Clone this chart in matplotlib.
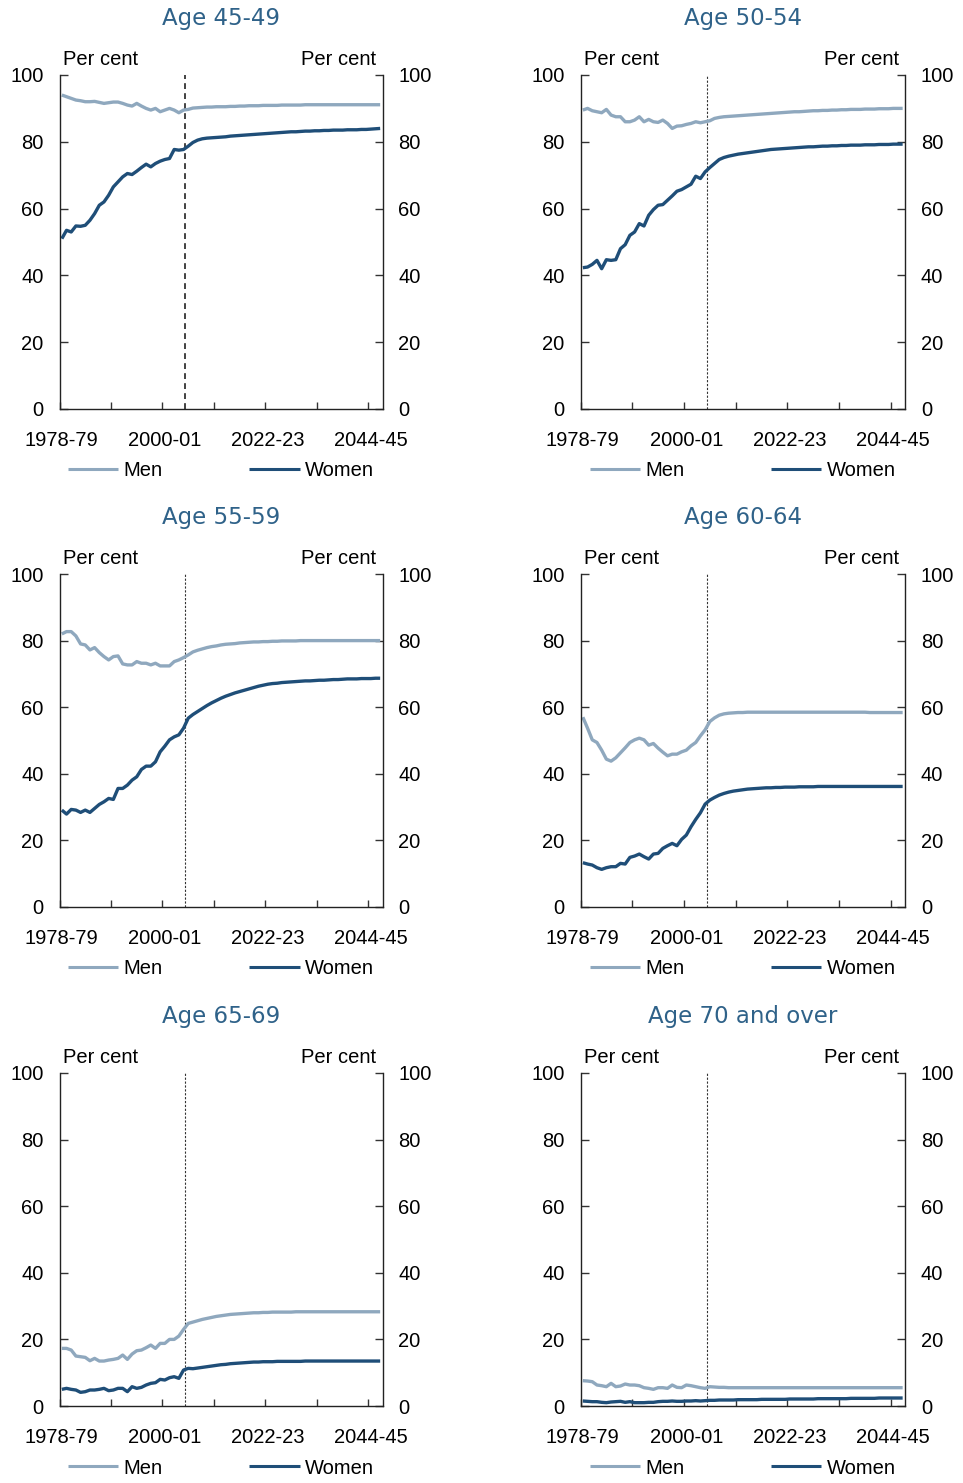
import numpy as np
import matplotlib
matplotlib.use("Agg")
import matplotlib.pyplot as plt

# ---------------- data ----------------
start_year = 1978
proj_start = 2004.8
tick_years = [1978, 1989, 2000, 2011, 2022, 2033, 2044]
label_years = [1978.5, 2000.5, 2022.5, 2044.5]
tick_labels = ["1978-79", "2000-01", "2022-23", "2044-45"]
titles = ["Age 45-49", "Age 50-54", "Age 55-59", "Age 60-64", "Age 65-69", "Age 70 and over"]
series_names = ["Men", "Women"]

men45 = [94.0, 93.5, 93.0, 92.5, 92.3, 92.0, 92.0, 92.1, 91.8, 91.5,
         91.7, 91.9, 91.9, 91.5, 91.0, 90.7, 91.5, 90.7, 90.0, 89.5,
         90.0, 89.0, 89.5, 90.0, 89.5, 88.7, 89.5, 89.7,
         90.1, 90.2, 90.3, 90.4, 90.4, 90.5, 90.5, 90.5, 90.6, 90.6,
         90.7, 90.7, 90.8, 90.8, 90.8, 90.9, 90.9, 90.9, 90.9, 91.0,
         91.0, 91.0, 91.0, 91.0, 91.1, 91.1, 91.1, 91.1, 91.1, 91.1,
         91.1, 91.1, 91.1, 91.1, 91.1, 91.1, 91.1, 91.1, 91.1, 91.1,
         91.1]
women45 = [51.0, 53.5, 53.0, 54.8, 54.7, 55.0, 56.5, 58.5, 61.0, 62.0,
           64.0, 66.5, 68.0, 69.5, 70.5, 70.2, 71.2, 72.3, 73.3, 72.5,
           73.5, 74.2, 74.7, 75.0, 77.7, 77.5, 77.7, 78.7,
           79.8, 80.5, 80.9, 81.1, 81.2, 81.3, 81.4, 81.5, 81.7, 81.8,
           81.9, 82.0, 82.1, 82.2, 82.3, 82.4, 82.5, 82.6, 82.7, 82.8,
           82.9, 83.0, 83.0, 83.1, 83.2, 83.2, 83.3, 83.3, 83.4, 83.4,
           83.5, 83.5, 83.5, 83.6, 83.6, 83.6, 83.7, 83.7, 83.8, 83.9,
           84.0]

men50 = [89.5, 90.0, 89.3, 89.0, 88.7, 89.7, 88.0, 87.5, 87.5, 86.0,
         86.0, 86.5, 87.5, 86.0, 86.7, 86.0, 85.8, 86.5, 85.5, 84.0,
         84.7, 84.8, 85.2, 85.5, 86.0, 85.7, 86.0, 86.3,
         87.0, 87.3, 87.5, 87.6, 87.7, 87.8, 87.9, 88.0, 88.1, 88.2,
         88.3, 88.4, 88.5, 88.6, 88.7, 88.8, 88.9, 89.0, 89.0, 89.1,
         89.2, 89.3, 89.3, 89.4, 89.4, 89.5, 89.5, 89.6, 89.6, 89.7,
         89.7, 89.7, 89.8, 89.8, 89.8, 89.9, 89.9, 89.9, 90.0, 90.0,
         90.0]
women50 = [42.3, 42.5, 43.3, 44.5, 42.0, 44.7, 44.5, 44.7, 48.0, 49.2,
           52.0, 53.0, 55.5, 54.8, 58.0, 59.7, 61.0, 61.2, 62.5, 63.8,
           65.2, 65.7, 66.5, 67.3, 69.7, 69.0, 71.0, 72.3,
           73.5, 74.7, 75.3, 75.7, 76.0, 76.3, 76.5, 76.7, 76.9, 77.1,
           77.3, 77.5, 77.7, 77.8, 77.9, 78.0, 78.1, 78.2, 78.3, 78.4,
           78.5, 78.5, 78.6, 78.7, 78.7, 78.8, 78.8, 78.9, 78.9, 79.0,
           79.0, 79.0, 79.1, 79.1, 79.1, 79.2, 79.2, 79.2, 79.3, 79.3,
           79.3]

men55 = [82.0, 82.7, 82.7, 81.4, 79.0, 78.7, 77.2, 77.9, 76.4, 75.2,
         74.2, 75.2, 75.4, 73.0, 72.7, 72.7, 73.7, 73.2, 73.2, 72.7,
         73.2, 72.4, 72.4, 72.4, 73.7, 74.2, 74.9, 75.7,
         76.6, 77.1, 77.5, 77.9, 78.2, 78.4, 78.7, 78.9, 79.0, 79.1,
         79.3, 79.4, 79.5, 79.6, 79.6, 79.7, 79.7, 79.8, 79.8, 79.9,
         79.9, 79.9, 79.9, 80.0, 80.0, 80.0, 80.0, 80.0, 80.0, 80.0,
         80.0, 80.0, 80.0, 80.0, 80.0, 80.0, 80.0, 80.0, 80.0, 80.0,
         80.0]
women55 = [29.1, 27.9, 29.3, 29.1, 28.4, 29.1, 28.4, 29.6, 30.8, 31.6,
           32.6, 32.3, 35.6, 35.6, 36.6, 38.1, 39.1, 41.3, 42.3, 42.3,
           43.6, 46.6, 48.3, 50.2, 51.1, 51.7, 53.7, 56.7,
           57.8, 58.7, 59.6, 60.5, 61.3, 62.0, 62.7, 63.3, 63.8, 64.3,
           64.7, 65.1, 65.5, 65.9, 66.3, 66.6, 66.9, 67.1, 67.2, 67.4,
           67.5, 67.6, 67.7, 67.8, 67.9, 67.9, 68.0, 68.1, 68.1, 68.2,
           68.3, 68.3, 68.4, 68.5, 68.5, 68.5, 68.6, 68.6, 68.6, 68.7,
           68.7]

men60 = [57.0, 53.7, 50.2, 49.4, 47.1, 44.4, 43.8, 44.8, 46.3, 47.8,
         49.4, 50.2, 50.7, 50.2, 48.6, 49.1, 47.7, 46.5, 45.4, 45.9,
         45.9, 46.6, 47.1, 48.4, 49.4, 51.4, 53.2, 55.7,
         56.8, 57.6, 58.0, 58.2, 58.3, 58.4, 58.4, 58.5, 58.5, 58.5,
         58.5, 58.5, 58.5, 58.5, 58.5, 58.5, 58.5, 58.5, 58.5, 58.5,
         58.5, 58.5, 58.5, 58.5, 58.5, 58.5, 58.5, 58.5, 58.5, 58.5,
         58.5, 58.5, 58.5, 58.4, 58.4, 58.4, 58.4, 58.4, 58.4, 58.4,
         58.4]
women60 = [13.3, 12.9, 12.6, 11.8, 11.3, 11.8, 12.1, 12.1, 13.1, 12.9,
           14.9, 15.3, 15.9, 15.1, 14.4, 15.9, 16.1, 17.6, 18.4, 19.1,
           18.4, 20.3, 21.6, 24.1, 26.3, 28.3, 30.9, 32.1,
           32.9, 33.6, 34.1, 34.5, 34.8, 35.0, 35.2, 35.4, 35.5, 35.6,
           35.7, 35.8, 35.8, 35.9, 35.9, 36.0, 36.0, 36.0, 36.1, 36.1,
           36.1, 36.1, 36.2, 36.2, 36.2, 36.2, 36.2, 36.2, 36.2, 36.2,
           36.2, 36.2, 36.2, 36.2, 36.2, 36.2, 36.2, 36.2, 36.2, 36.2,
           36.2]

men65 = [17.3, 17.3, 16.8, 15.0, 14.8, 14.6, 13.6, 14.3, 13.5, 13.5,
         13.8, 14.0, 14.3, 15.3, 14.0, 15.6, 16.6, 16.8, 17.5, 18.3,
         17.3, 18.8, 18.8, 20.0, 20.0, 21.0, 23.0, 24.8,
         25.2, 25.6, 26.0, 26.3, 26.6, 26.9, 27.1, 27.3, 27.5, 27.6,
         27.7, 27.8, 27.9, 28.0, 28.0, 28.1, 28.1, 28.2, 28.2, 28.2,
         28.2, 28.2, 28.3, 28.3, 28.3, 28.3, 28.3, 28.3, 28.3, 28.3,
         28.3, 28.3, 28.3, 28.3, 28.3, 28.3, 28.3, 28.3, 28.3, 28.3,
         28.3]
women65 = [5.0, 5.3, 5.0, 4.8, 4.1, 4.3, 4.8, 4.8, 5.0, 5.3,
           4.6, 4.8, 5.3, 5.3, 4.3, 5.8, 5.3, 5.6, 6.3, 6.8,
           7.0, 8.0, 7.8, 8.5, 8.8, 8.3, 10.8, 11.3,
           11.2, 11.4, 11.6, 11.8, 12.0, 12.2, 12.4, 12.5, 12.7, 12.8,
           12.9, 13.0, 13.1, 13.2, 13.2, 13.3, 13.3, 13.3, 13.4, 13.4,
           13.4, 13.4, 13.4, 13.4, 13.5, 13.5, 13.5, 13.5, 13.5, 13.5,
           13.5, 13.5, 13.5, 13.5, 13.5, 13.5, 13.5, 13.5, 13.5, 13.5,
           13.5]

men70 = [7.6, 7.5, 7.3, 6.3, 6.1, 5.8, 6.8, 5.8, 6.0, 6.6,
         6.3, 6.3, 6.1, 5.5, 5.3, 5.0, 5.5, 5.5, 5.3, 6.3,
         5.6, 5.5, 6.3, 6.1, 5.8, 5.5, 5.3, 5.8,
         5.7, 5.6, 5.6, 5.5, 5.5, 5.5, 5.5, 5.5, 5.5, 5.5,
         5.5, 5.5, 5.5, 5.5, 5.5, 5.5, 5.5, 5.5, 5.5, 5.5,
         5.5, 5.5, 5.5, 5.5, 5.5, 5.5, 5.5, 5.5, 5.5, 5.5,
         5.5, 5.5, 5.5, 5.5, 5.5, 5.5, 5.5, 5.5, 5.5, 5.5,
         5.5]
women70 = [1.5, 1.4, 1.3, 1.3, 1.1, 1.0, 1.2, 1.3, 1.4, 1.1,
           1.3, 1.0, 1.0, 1.0, 1.1, 1.1, 1.3, 1.4, 1.4, 1.5,
           1.4, 1.4, 1.5, 1.5, 1.6, 1.5, 1.6, 1.7,
           1.7, 1.8, 1.8, 1.8, 1.8, 1.9, 1.9, 1.9, 1.9, 1.9,
           2.0, 2.0, 2.0, 2.0, 2.0, 2.0, 2.1, 2.1, 2.1, 2.1,
           2.1, 2.1, 2.2, 2.2, 2.2, 2.2, 2.2, 2.2, 2.2, 2.3,
           2.3, 2.3, 2.3, 2.3, 2.3, 2.4, 2.4, 2.4, 2.4, 2.4,
           2.4]

men_all = [men45, men50, men55, men60, men65, men70]
women_all = [women45, women50, women55, women60, women65, women70]

# ---------------- style ----------------
MEN_C = "#8fa8be"
WOMEN_C = "#1f4e78"
TITLE_C = "#2f6289"
FS = 14.5

plt.rcParams["font.family"] = ["Liberation Sans", "DejaVu Sans"]

W, H = 963, 1483
fig = plt.figure(figsize=(W / 100, H / 100), dpi=100)
fig.patch.set_facecolor("white")

col_px = [(59.5, 382.5), (580.5, 905.0)]
row_px = [(75, 409), (574, 907), (1073, 1406)]

for i in range(6):
    r, c = divmod(i, 2)
    x0, x1 = col_px[c]
    t, b = row_px[r]
    ax = fig.add_axes([x0 / W, 1 - b / H, (x1 - x0) / W, (b - t) / H])
    men = men_all[i]
    women = women_all[i]
    x = start_year + 0.5 + np.arange(len(men))
    ax.plot(x, men, color=MEN_C, lw=2.4, label=series_names[0], solid_capstyle="butt")
    ax.plot(x, women, color=WOMEN_C, lw=2.4, label=series_names[1], solid_capstyle="butt")
    if i == 0:
        ax.axvline(proj_start, color="#222222", lw=1.2, dashes=(3.5, 2.5), zorder=1)
    else:
        ax.axvline(proj_start, color="#333333", lw=0.8, dashes=(2, 1.5), zorder=1)

    ax.set_xlim(1978, 2047)
    ax.set_ylim(0, 100)
    ax.set_yticks(range(0, 101, 20))
    ax.tick_params(axis="y", direction="in", length=6, width=1, color="#333333",
                   left=True, right=True, labelleft=True, labelright=True,
                   labelsize=FS, pad=11.5)
    ax.set_xticks(label_years)
    ax.set_xticklabels(tick_labels)
    ax.set_xticks(tick_years, minor=True)
    ax.tick_params(axis="x", which="major", length=0, labelsize=FS, pad=16)
    ax.tick_params(axis="x", which="minor", direction="in", length=5, width=1, color="#333333")
    ax.spines["top"].set_visible(False)
    for s in ["left", "right", "bottom"]:
        ax.spines[s].set_color("#222222")
        ax.spines[s].set_linewidth(1)

    ax.set_title(titles[i], pad=36, fontsize=16.5, color=TITLE_C, family="DejaVu Sans")
    ax.annotate("Per cent", xy=(0, 1), xycoords="axes fraction", xytext=(2.7, 7),
                textcoords="offset points", ha="left", va="baseline", fontsize=FS)
    ax.annotate("Per cent", xy=(1, 1), xycoords="axes fraction", xytext=(-4.3, 7),
                textcoords="offset points", ha="right", va="baseline", fontsize=FS)

    leg = ax.legend(loc="center", bbox_to_anchor=(0.5, -62 / (b - t)), ncol=2, frameon=False,
                    fontsize=FS, handlelength=2.5, handletextpad=0.26, columnspacing=4.3,
                    borderaxespad=0, borderpad=0)
    for ln in leg.get_lines():
        ln.set_linewidth(2.2)

fig.savefig("out.png", dpi=100, facecolor="white")
